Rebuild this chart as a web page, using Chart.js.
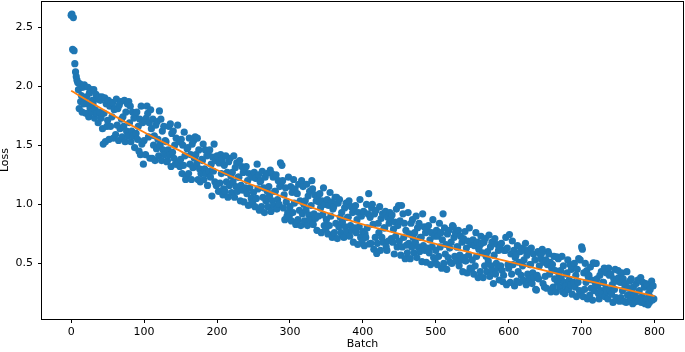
<!DOCTYPE html>
<html>
<head>
<meta charset="utf-8">
<script src="https://cdn.jsdelivr.net/npm/chart.js@4/dist/chart.umd.min.js"></script>
<style>
html,body{margin:0;padding:0;background:#fff;}
#wrap{width:685px;height:352px;}
</style>
</head>
<body>
<div id="wrap"><canvas id="c" width="685" height="352"></canvas></div>
<script>
// Loss per batch (x = index 0..799)
const lossValues = [
2.60,2.61,2.31,2.58,2.30,2.19,2.12,2.08,2.05,2.03,
1.97,1.81,2.02,1.87,1.92,1.78,1.99,1.85,2.01,1.90,
1.77,1.91,1.85,1.99,1.74,1.94,1.81,1.97,1.78,1.88,
1.85,1.97,1.73,1.80,1.93,1.77,1.89,1.69,1.91,1.78,
1.88,1.73,1.91,1.64,1.51,1.77,1.90,1.53,1.85,1.66,
1.71,1.88,1.55,1.83,1.66,1.86,1.74,1.86,1.56,1.80,
1.81,1.59,1.89,1.67,1.81,1.54,1.84,1.64,1.87,1.72,
1.57,1.74,1.66,1.88,1.53,1.78,1.62,1.85,1.58,1.87,
1.69,1.83,1.53,1.62,1.78,1.58,1.73,1.48,1.76,1.60,
1.78,1.55,1.66,1.45,1.72,1.42,1.83,1.51,1.69,1.34,
1.54,1.71,1.42,1.73,1.83,1.77,1.57,1.69,1.39,1.80,
1.64,1.39,1.72,1.50,1.58,1.37,1.67,1.47,1.70,1.55,
1.41,1.79,1.50,1.72,1.37,1.62,1.46,1.66,1.42,1.54,
1.53,1.36,1.37,1.46,1.66,1.42,1.68,1.32,1.60,1.44,
1.62,1.39,1.50,1.34,1.56,1.34,1.67,1.35,1.53,1.32,
1.38,1.55,1.26,1.50,1.33,1.61,1.41,1.21,1.23,1.47,
1.48,1.26,1.56,1.34,1.42,1.21,1.51,1.31,1.54,1.39,
1.57,1.42,1.34,1.56,1.21,1.46,1.30,1.19,1.26,1.38,
1.37,1.51,1.21,1.30,1.46,1.26,1.41,1.16,1.44,1.28,
1.46,1.23,1.34,1.07,1.40,1.28,1.51,1.19,1.37,1.16,
1.41,1.40,1.11,1.35,1.18,1.42,1.26,1.38,1.08,1.13,
1.33,1.11,1.41,1.19,1.27,1.06,1.36,1.16,1.39,1.24,
1.10,1.27,1.19,1.41,1.06,1.31,1.15,1.35,1.11,1.23,
1.23,1.37,1.03,1.16,1.32,1.12,1.27,1.02,1.30,1.14,
1.32,1.09,1.20,0.99,1.26,1.14,1.00,1.05,1.23,1.02,
1.10,1.27,0.98,1.22,1.05,1.34,1.13,1.25,0.95,1.19,
1.20,0.98,1.28,1.06,1.14,0.93,1.23,1.03,1.26,1.11,
0.98,1.15,1.07,1.29,0.94,1.26,1.03,1.23,0.99,1.11,
1.11,1.25,0.96,1.04,1.20,1.00,1.15,1.35,1.18,1.33,
1.20,0.97,1.08,0.87,1.14,1.02,0.90,0.93,1.23,0.90,
0.98,1.15,0.86,1.10,0.93,1.21,1.01,1.13,0.83,0.85,
1.09,0.87,1.17,0.95,1.03,0.82,1.20,0.92,1.15,1.00,
0.86,1.03,0.95,1.17,0.82,1.07,0.91,1.11,0.87,0.99,
1.20,1.13,0.83,0.92,1.08,0.88,1.03,0.78,1.06,0.90,
1.02,1.09,0.97,0.76,1.03,0.91,1.14,0.82,1.00,0.79,
0.87,1.04,0.75,0.99,0.82,1.10,0.90,1.02,0.72,0.96,
0.98,0.76,1.06,0.84,1.06,0.71,1.01,0.81,1.04,0.89,
0.76,0.93,0.85,0.735,0.72,0.97,0.81,1.01,0.77,0.89,
0.89,1.03,0.73,0.82,0.98,0.78,0.93,0.68,0.96,0.80,
0.99,0.76,0.87,0.66,0.93,0.81,1.04,0.72,0.90,0.69,
0.77,0.94,0.65,0.75,0.72,1.00,0.80,0.92,1.09,0.665,
0.89,0.67,0.97,1.00,0.83,0.62,0.92,0.72,0.95,0.585,
0.67,0.84,0.76,0.98,0.61,0.88,0.72,0.92,0.68,0.80,
0.80,0.94,0.64,0.61,0.89,0.69,0.84,0.93,0.87,0.71,
0.91,0.68,0.79,0.58,0.85,0.73,0.96,0.64,0.82,0.99,
0.69,0.86,0.57,0.99,0.64,0.92,0.72,0.84,0.54,0.78,
0.655,0.59,0.93,0.67,0.75,0.54,0.84,0.64,0.87,0.72,
0.59,0.76,0.68,0.90,0.55,0.80,0.64,0.84,0.60,0.72,
0.72,0.515,0.92,0.65,0.81,0.61,0.76,0.51,0.79,0.63,
0.82,0.59,0.70,0.49,0.76,0.64,0.87,0.55,0.73,0.52,
0.61,0.78,0.49,0.73,0.56,0.84,0.64,0.76,0.46,0.70,
0.92,0.50,0.80,0.58,0.66,0.45,0.75,0.55,0.78,0.63,
0.51,0.68,0.50,0.82,0.81,0.72,0.56,0.76,0.52,0.64,
0.64,0.78,0.48,0.57,0.73,0.53,0.68,0.43,0.71,0.55,
0.77,0.52,0.63,0.42,0.69,0.57,0.80,0.46,0.66,0.45,
0.53,0.70,0.41,0.65,0.48,0.76,0.56,0.68,0.38,0.62,
0.65,0.43,0.73,0.67,0.59,0.38,0.68,0.48,0.71,0.56,
0.43,0.60,0.52,0.74,0.39,0.64,0.48,0.68,0.44,0.33,
0.57,0.71,0.41,0.50,0.66,0.46,0.61,0.36,0.64,0.48,
0.67,0.44,0.345,0.40,0.61,0.61,0.72,0.32,0.63,0.49,
0.46,0.745,0.34,0.58,0.41,0.69,0.49,0.61,0.31,0.55,
0.57,0.35,0.65,0.43,0.51,0.34,0.60,0.40,0.63,0.48,
0.36,0.53,0.61,0.67,0.32,0.57,0.41,0.61,0.37,0.49,
0.49,0.63,0.33,0.42,0.58,0.38,0.53,0.28,0.275,0.40,
0.60,0.37,0.48,0.58,0.54,0.585,0.62,0.33,0.51,0.30,
0.39,0.53,0.29,0.49,0.60,0.58,0.41,0.51,0.26,0.46,
0.49,0.30,0.56,0.37,0.44,0.26,0.555,0.34,0.54,0.41,
0.30,0.44,0.37,0.56,0.26,0.48,0.34,0.245,0.31,0.41,
0.42,0.53,0.28,0.36,0.49,0.32,0.45,0.24,0.48,0.34,
0.50,0.30,0.40,0.22,0.45,0.34,0.54,0.27,0.53,0.24,
0.64,0.62,0.22,0.42,0.28,0.50,0.34,0.44,0.20,0.39,
0.40,0.23,0.47,0.29,0.36,0.19,0.505,0.27,0.50,0.33,
0.50,0.37,0.31,0.245,0.20,0.40,0.27,0.43,0.24,0.34,
0.34,0.46,0.22,0.29,0.42,0.26,0.20,0.46,0.40,0.27,
0.41,0.24,0.32,0.17,0.37,0.28,0.45,0.21,0.35,0.19,
0.44,0.38,0.18,0.34,0.21,0.42,0.27,0.37,0.18,0.32,
0.33,0.17,0.43,0.23,0.29,0.18,0.35,0.20,0.37,0.26,
0.16,0.30,0.24,0.175,0.19,0.33,0.21,0.36,0.18,0.27,
0.36,0.38,0.17,0.22,0.34,0.19,0.30,0.16,0.33,0.20,
0.32,0.15,0.25,0.17,0.28,0.21,0.35,0.19,0.31,0.20
];

// Fitted trend line, read at regular batches
const fitBatches = [0,50,100,150,200,250,300,350,400,450,500,550,600,650,700,750,800];
const fitValues  = [1.96,1.78,1.61,1.45,1.29,1.16,1.04,0.93,0.83,0.75,0.665,0.59,0.515,0.44,0.365,0.295,0.224];

// Axis ticks
const xTicks = [0,100,200,300,400,500,600,700,800];
const yTicks = [0.5,1.0,1.5,2.0,2.5];

const scatterData = lossValues.map((v,i)=>({x:i,y:v}));
const fitData = fitBatches.map((b,i)=>({x:b,y:fitValues[i]}));

// Keep marker overflow from shrinking the plot area (matplotlib-like axes box)
['scatter','line'].forEach(k=>{
  const C = Chart.registry.getController(k);
  if (C) C.prototype.getMaxOverflow = function(){ return 0; };
});

const frame = {
  id:'frame',
  afterDraw(chart){
    const a = chart.chartArea, ctx = chart.ctx;
    ctx.save();
    ctx.strokeStyle = '#000';
    ctx.lineWidth = 1;
    ctx.strokeRect(Math.round(a.left)-0.5, Math.round(a.top)+0.5, Math.round(a.right-a.left)+1, Math.round(a.bottom-a.top));
    ctx.restore();
  }
};

const font = {family:'"DejaVu Sans", sans-serif', size:11};

new Chart(document.getElementById('c'), {
  type:'scatter',
  data:{
    datasets:[
      {type:'line', label:'fit', data:fitData, borderColor:'#ff7f0e', borderWidth:1.8,
       pointRadius:0, fill:false, cubicInterpolationMode:'monotone', order:0},
      {type:'scatter', label:'loss', data:scatterData, backgroundColor:'#1f77b4',
       borderWidth:0, pointRadius:3.6, pointHoverRadius:3.6, order:1}
    ]
  },
  options:{
    responsive:false,
    animation:false,
    events:[],
    layout:{padding:{left:0,right:2,top:1,bottom:0}},
    plugins:{legend:{display:false}, tooltip:{enabled:false}},
    scales:{
      x:{
        type:'linear', min:-40, max:839,
        afterBuildTicks(s){ s.ticks = xTicks.map(v=>({value:v})); },
        afterFit(s){ s.height = 33; s.paddingLeft = 0; s.paddingRight = 0; },
        grid:{drawOnChartArea:false, drawTicks:true, tickLength:4, color:'#000'},
        border:{display:false},
        ticks:{color:'#000', font, padding:3, maxRotation:0, callback:v=>String(v)},
        title:{display:true, text:'Batch', color:'#000', font:{...font, lineHeight:1.2}, padding:{top:0,bottom:1}}
      },
      y:{
        type:'linear', min:0.03, max:2.72,
        afterBuildTicks(s){ s.ticks = yTicks.map(v=>({value:v})); },
        afterFit(s){ s.width = 42; s.paddingTop = 0; s.paddingBottom = 0; },
        grid:{drawOnChartArea:false, drawTicks:true, tickLength:4, color:'#000'},
        border:{display:false},
        ticks:{color:'#000', font, padding:5, callback:v=>Number(v).toFixed(1)},
        title:{display:true, text:'Loss', color:'#000', font:{...font, lineHeight:1.0}, padding:0}
      }
    }
  },
  plugins:[frame]
});
</script>
</body>
</html>
